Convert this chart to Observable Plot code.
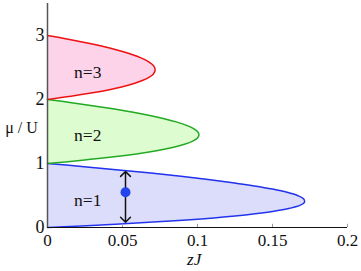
<!DOCTYPE html>
<html><head><meta charset="utf-8">
<script src="https://cdn.jsdelivr.net/npm/d3@7"></script>
<script src="https://cdn.jsdelivr.net/npm/@observablehq/plot@0.6"></script>
<style>body{margin:0;background:#fff}</style>
</head><body><div id="chart"></div>
<script>
// fraction of each lobe in mu (offset from lobe base n-1)
const muOffsets = [0,0.05,0.1,0.15,0.2,0.25,0.3,0.35,0.4,0.45,0.5,0.55,0.6,0.65,0.7,0.75,0.8,0.85,0.9,0.95,1];
const zJ_n1 = [0,0.0452,0.0818,0.1109,0.1333,0.15,0.1615,0.1685,0.1714,0.1707,0.1667,0.1597,0.15,0.1379,0.1235,0.1071,0.0889,0.0689,0.0474,0.0244,0];
const zJ_n2 = [0,0.0232,0.0429,0.0593,0.0727,0.0833,0.0913,0.0968,0.1,0.101,0.1,0.0971,0.0923,0.0858,0.0778,0.0682,0.0571,0.0447,0.031,0.0161,0];
const zJ_n3 = [0,0.0156,0.029,0.0405,0.05,0.0577,0.0636,0.0679,0.0706,0.0717,0.0714,0.0697,0.0667,0.0623,0.0568,0.05,0.0421,0.0331,0.0231,0.012,0];
const lobeNames = ["n=1","n=2","n=3"];
const labelZJ = [0.0268,0.0268,0.0268];
const labelMu = [0.42,1.44,2.43];
const xTicks = [0,0.05,0.1,0.15,0.2];
const yTicks = [0,1,2,3];
const arrowZJ = 0.052, arrowMuTop = 0.875, arrowMuBottom = 0.083, dotMu = 0.55;

const fills = ["#dcdcfb","#ddfccf","#fdd3ea"];
const strokes = ["#2233ee","#22aa22","#ee1111"];
const lobes = [zJ_n1, zJ_n2, zJ_n3].map((arr, i) => arr.map((z, k) => ({zJ: z, mu: i + muOffsets[k]})));

const serif = "'Liberation Serif', 'Times New Roman', serif";
const marks = [];
lobes.forEach((d, i) => {
  marks.push(Plot.areaX(d, {x: "zJ", y: "mu", fill: fills[i], curve: "catmull-rom"}));
});
lobes.forEach((d, i) => {
  marks.push(Plot.line(d, {x: "zJ", y: "mu", stroke: strokes[i], strokeWidth: 1.5, curve: "catmull-rom"}));
});
marks.push(
  Plot.text(lobeNames, {x: (d,i) => labelZJ[i], y: (d,i) => labelMu[i], text: d => d, fontSize: 17.5, fontFamily: serif, fill: "#111"}),
  Plot.arrow([0], {x1: arrowZJ, x2: arrowZJ, y1: dotMu, y2: arrowMuTop, stroke: "#111", strokeWidth: 1.5, headAngle: 90, headLength: 7}),
  Plot.arrow([0], {x1: arrowZJ, x2: arrowZJ, y1: dotMu, y2: arrowMuBottom, stroke: "#111", strokeWidth: 1.5, headAngle: 90, headLength: 7}),
  Plot.dot([0], {x: arrowZJ, y: dotMu, r: 5, fill: "#2244ee"}),
  Plot.ruleY([0], {stroke: "#111", strokeWidth: 1.2}),
  Plot.ruleX([0], {stroke: "#555", strokeWidth: 1.5}),
  Plot.ruleX(xTicks.slice(1), {y1: 0, y2: 0.05, stroke: "#999"}),
  Plot.axisX({ticks: xTicks, tickFormat: d => String(d), tickSize: 0, tickPadding: 6, label: null, fontSize: 17, fontFamily: serif}),
  Plot.axisY({ticks: yTicks, tickFormat: d => String(d), tickSize: 0, tickPadding: 3, label: null, fontSize: 18, fontFamily: serif}),
  Plot.text(["μ / U"], {x: 0, y: 1.55, dx: -26, text: d => d, fontSize: 16, fontFamily: serif, fill: "#111"}),
  Plot.text(["zJ"], {x: 0.0978, y: 0, dy: 32, text: d => d, fontSize: 17, fontFamily: serif, fontStyle: "italic", fill: "#111"})
);

const chart = Plot.plot({
  width: 361, height: 271,
  marginLeft: 47, marginRight: 14, marginTop: 3, marginBottom: 44,
  style: {fontFamily: serif, fontSize: "15px", color: "#111", background: "#fff", overflow: "visible"},
  x: {domain: [0, 0.2]},
  y: {domain: [0, 3.5]},
  marks
});
document.getElementById("chart").appendChild(chart);
</script>
</body></html>
